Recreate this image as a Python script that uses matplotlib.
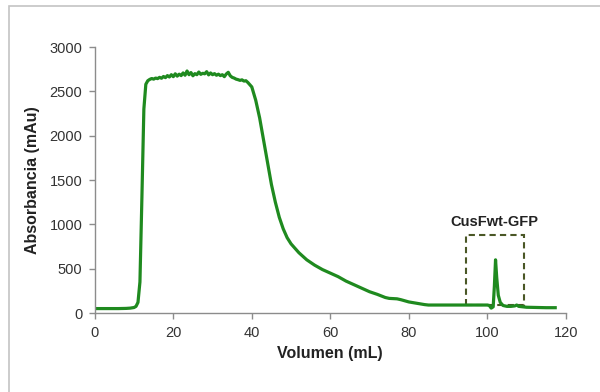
import matplotlib.pyplot as plt
from matplotlib.patches import Rectangle

plt.rcParams['font.family'] = ['Liberation Sans', 'DejaVu Sans']

# chromatogram (mL, mAu)
volumen = [0, 2, 4, 6, 8, 9, 10, 10.5, 11, 11.5, 12, 12.5, 13, 13.5,
           14, 14.5, 15, 15.5, 16, 16.5, 17, 17.5, 18, 18.5, 19, 19.5,
           20, 20.5, 21, 21.5, 22, 22.5, 23, 23.5, 24, 24.5, 25, 25.5,
           26, 26.5, 27, 27.5, 28, 28.5, 29, 29.5, 30, 30.5, 31, 31.5,
           32, 32.5, 33, 33.5, 34, 34.5, 35, 35.5, 36, 36.5, 37, 37.5,
           38, 38.5, 39, 40, 41, 42, 43, 44, 45, 46, 47, 48, 49, 50,
           52, 54, 56, 58, 60, 62, 64, 66, 68, 70, 72, 74, 75, 77, 78,
           80, 82, 84, 85, 90, 95, 100, 100.5, 101, 101.5, 101.8, 102.1,
           102.4, 102.8, 103.3, 104, 105, 106, 107, 107.5, 108, 110, 115,
           117.3]
absorbancia = [50, 50, 50, 50, 52, 55, 62, 75, 120, 350, 1300, 2300, 2580, 2620,
               2635, 2645, 2638, 2650, 2644, 2658, 2648, 2668, 2655, 2678, 2662, 2688,
               2666, 2698, 2672, 2694, 2678, 2708, 2682, 2730, 2688, 2712, 2676, 2700,
               2688, 2718, 2692, 2704, 2698, 2722, 2686, 2708, 2688, 2700, 2682, 2694,
               2678, 2688, 2666, 2696, 2715, 2676, 2658, 2650, 2638, 2632, 2624, 2630,
               2616, 2620, 2600, 2550, 2400, 2200, 1950, 1700, 1450, 1250, 1080, 950, 850, 780,
               680, 600, 540, 490, 450, 410, 360, 320, 280, 240, 210, 175, 165, 160, 150,
               125, 110, 95, 90, 90, 90, 90, 85, 55, 70, 300, 600,
               400, 200, 120, 85, 75, 75, 80, 90, 75, 65, 60,
               60]

box_x = (94.5, 109.3)
box_y = (95, 880)
box_label = "CusFwt-GFP"

fig = plt.figure(figsize=(6.0, 3.92), dpi=100)
fig.patches.append(Rectangle((0.015, -0.1), 1.2, 1.085, transform=fig.transFigure,
                             fill=False, edgecolor='#c4c4c4', linewidth=1.2))

ax = fig.add_axes([0.158, 0.2015, 0.785, 0.6785])
ax.plot(volumen, absorbancia, color='#1f8a1f', linewidth=2.3)

ax.add_patch(Rectangle((box_x[0], box_y[0]), box_x[1] - box_x[0], box_y[1] - box_y[0],
                       fill=False, edgecolor='#4a5726', linewidth=1.5,
                       linestyle=(0, (3, 2))))
ax.text((box_x[0] + box_x[1]) / 2, 1030, box_label, ha='center', va='center',
        fontsize=10.5, fontweight='bold', color='#222222')

ax.set_xlim(0, 120)
ax.set_ylim(0, 3000)
ax.set_xticks(range(0, 121, 20))
ax.set_yticks(range(0, 3001, 500))

for s in ['top', 'right']:
    ax.spines[s].set_visible(False)
for s in ['left', 'bottom']:
    ax.spines[s].set_color('#8c8c8c')
    ax.spines[s].set_linewidth(1.0)
ax.tick_params(colors='#8c8c8c', labelcolor='#333333', labelsize=10.5,
               length=4, width=1.0, pad=5)

ax.set_xlabel("Volumen (mL)", fontsize=11.5, fontweight='bold', color='#222222',
              labelpad=5)
ax.set_ylabel("Absorbancia (mAu)", fontsize=11.5, fontweight='bold', color='#222222',
              labelpad=7)

fig.savefig("out.png", dpi=100)
